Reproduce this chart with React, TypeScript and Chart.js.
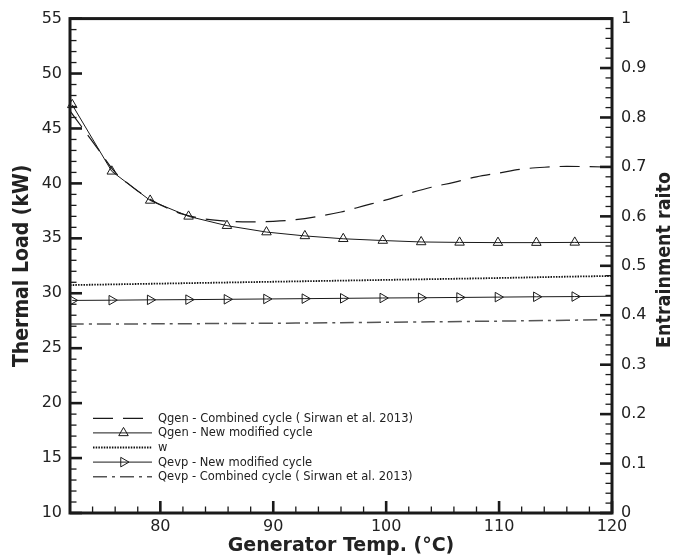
import React, { useEffect, useRef } from 'react';
import { Chart, registerables } from 'chart.js';

Chart.register(...registerables);

// ---- tick labels ----
const X_TICKS = [80, 90, 100, 110, 120];
const Y_LEFT_TICKS = [10, 15, 20, 25, 30, 35, 40, 45, 50, 55];
const Y_RIGHT_TICKS = [0, 0.1, 0.2, 0.3, 0.4, 0.5, 0.6, 0.7, 0.8, 0.9, 1];

// ---- series ----
const LABELS = [
  'Qgen - Combined cycle ( Sirwan et al. 2013)',
  'Qgen - New modified cycle',
  'w',
  'Qevp - New modified cycle',
  'Qevp - Combined cycle ( Sirwan et al. 2013)',
];

const QGEN_COMB_X = [72, 73, 74.5, 76, 77.5, 79, 80.5, 82, 84, 86, 88, 90, 92, 94, 96, 98, 100, 102, 104, 106, 108, 110, 112, 114, 116, 118, 120];
const QGEN_COMB_Y = [46.6, 45.2, 43.1, 41.0, 39.7, 38.6, 37.8, 37.2, 36.75, 36.55, 36.5, 36.55, 36.7, 37.0, 37.4, 37.95, 38.5, 39.1, 39.65, 40.1, 40.6, 40.95, 41.3, 41.47, 41.55, 41.52, 41.48];

const QGEN_NEW_X = [72.2, 75.7, 79.1, 82.5, 85.9, 89.4, 92.8, 96.2, 99.7, 103.1, 106.5, 109.9, 113.3, 116.7, 120];
const QGEN_NEW_Y = [47.15, 41.1, 38.45, 37.0, 36.15, 35.57, 35.22, 34.96, 34.8, 34.67, 34.63, 34.61, 34.61, 34.63, 34.63];

const W_X = [72, 76, 80, 84, 88, 92, 96, 100, 104, 108, 112, 116, 120];
const W_Y = [0.461, 0.4625, 0.464, 0.4655, 0.467, 0.4685, 0.47, 0.4715, 0.473, 0.4745, 0.4762, 0.478, 0.4795];

const QEVP_NEW_X = [72.2, 75.7, 79.1, 82.5, 85.9, 89.4, 92.8, 96.2, 99.7, 103.1, 106.5, 109.9, 113.3, 116.7, 120];
const QEVP_NEW_Y = [29.35, 29.37, 29.4, 29.42, 29.45, 29.48, 29.51, 29.54, 29.57, 29.59, 29.62, 29.65, 29.68, 29.7, 29.73];

const QEVP_COMB_X = [72, 80, 88, 96, 104, 112, 120];
const QEVP_COMB_Y = [27.2, 27.22, 27.26, 27.32, 27.4, 27.49, 27.6];

const X_MINOR_STEP = 2;
const YL_MINOR_STEP = 1;
const YR_MINOR_STEP = 0.02;

const TEXT = '#222';
const INK = '#1a1a1a';
const FONT = "'DejaVu Sans', sans-serif";
const TITLE_FONT = "'DejaVu Sans Condensed', 'Liberation Sans', sans-serif";

const zip = (xs: number[], ys: number[]) => xs.map((x, i) => ({ x, y: ys[i] }));
const markerRadii = (n: number, r: number) => Array.from({ length: n }, (_, i) => (i === n - 1 ? 0 : r));

function drawTriangle(ctx: CanvasRenderingContext2D, x: number, y: number, r: number, rotDeg: number) {
  let rad = (rotDeg * Math.PI) / 180;
  ctx.beginPath();
  ctx.moveTo(x + Math.sin(rad) * r, y - Math.cos(rad) * r);
  rad += (2 * Math.PI) / 3;
  ctx.lineTo(x + Math.sin(rad) * r, y - Math.cos(rad) * r);
  rad += (2 * Math.PI) / 3;
  ctx.lineTo(x + Math.sin(rad) * r, y - Math.cos(rad) * r);
  ctx.closePath();
  ctx.stroke();
}

const framePlugin = {
  id: 'frameTicks',
  afterDatasetsDraw(chart: any) {
    const { ctx, chartArea: a, scales } = chart;
    const xs = scales.x, yl = scales.y, yr = scales.y1;
    ctx.save();
    ctx.strokeStyle = INK;
    ctx.lineCap = 'butt';
    const seg = (x1: number, y1: number, x2: number, y2: number, w: number) => {
      ctx.lineWidth = w;
      ctx.beginPath();
      ctx.moveTo(x1, y1);
      ctx.lineTo(x2, y2);
      ctx.stroke();
    };
    const MAJ = 12, MIN = 6.5, MAJW = 2.6, MINW = 1.3;
    const nx = Math.round((xs.max - xs.min) / X_MINOR_STEP);
    for (let i = 0; i <= nx; i++) {
      const v = xs.min + i * X_MINOR_STEP;
      const px = xs.getPixelForValue(v);
      const major = X_TICKS.includes(v);
      seg(px, a.bottom, px, a.bottom - (major ? MAJ : MIN), major ? MAJW : MINW);
    }
    const nl = Math.round((yl.max - yl.min) / YL_MINOR_STEP);
    for (let i = 0; i <= nl; i++) {
      const v = yl.min + i * YL_MINOR_STEP;
      const py = yl.getPixelForValue(v);
      const major = Y_LEFT_TICKS.includes(v);
      seg(a.left, py, a.left + (major ? MAJ : MIN), py, major ? MAJW : MINW);
    }
    const nr = Math.round((yr.max - yr.min) / YR_MINOR_STEP);
    for (let i = 0; i <= nr; i++) {
      const v = yr.min + i * YR_MINOR_STEP;
      const py = yr.getPixelForValue(v);
      const major = i % 5 === 0;
      seg(a.right, py, a.right - (major ? MAJ : MIN), py, major ? MAJW : MINW);
    }
    ctx.lineWidth = 3;
    ctx.strokeRect(a.left, a.top, a.right - a.left, a.bottom - a.top);
    ctx.restore();
  },
  afterDraw(chart: any) {
    const { ctx, chartArea: a } = chart;
    ctx.save();
    // legend
    const x0 = a.left + 23, x1 = a.left + 82, tx = a.left + 88;
    const y0 = a.bottom - 94.7, dy = 14.6;
    ctx.font = `11.5px ${FONT}`;
    ctx.textBaseline = 'middle';
    ctx.textAlign = 'left';
    chart.data.datasets.forEach((ds: any, i: number) => {
      const y = y0 + i * dy;
      ctx.strokeStyle = ds.borderColor;
      ctx.lineWidth = ds.borderWidth;
      ctx.setLineDash(ds.borderDash || []);
      ctx.beginPath();
      ctx.moveTo(x0, y);
      ctx.lineTo(x1, y);
      ctx.stroke();
      ctx.setLineDash([]);
      if (ds.pointStyle === 'triangle') {
        ctx.lineWidth = 1;
        ctx.strokeStyle = ds.pointBorderColor;
        drawTriangle(ctx, (x0 + x1) / 2 + 1, y, 5.5, ds.pointRotation || 0);
      }
      ctx.fillStyle = TEXT;
      ctx.fillText(ds.label, tx, y + 0.5);
    });
    // right axis title (reads bottom to top)
    ctx.font = `bold 19.5px ${TITLE_FONT}`;
    ctx.fillStyle = TEXT;
    ctx.textAlign = 'center';
    ctx.textBaseline = 'middle';
    ctx.translate(665, 260);
    ctx.rotate(-Math.PI / 2);
    ctx.fillText('Entrainment raito', 0, 0);
    ctx.restore();
  },
};

export default function App() {
  const ref = useRef<HTMLCanvasElement | null>(null);
  useEffect(() => {
    if (!ref.current) return;
    const tri = {
      pointStyle: 'triangle',
      pointBackgroundColor: 'rgba(0,0,0,0)',
      pointBorderColor: INK,
      pointBorderWidth: 1,
      pointHoverRadius: 0,
    };
    const chart = new Chart(ref.current, {
      type: 'line',
      data: {
        datasets: [
          {
            label: LABELS[0],
            data: zip(QGEN_COMB_X, QGEN_COMB_Y),
            yAxisID: 'y',
            borderColor: INK,
            borderWidth: 1.2,
            borderDash: [20, 10],
            pointRadius: 0,
            tension: 0.35,
            cubicInterpolationMode: 'monotone',
          },
          {
            label: LABELS[1],
            data: zip(QGEN_NEW_X, QGEN_NEW_Y),
            yAxisID: 'y',
            borderColor: INK,
            borderWidth: 1,
            pointRadius: markerRadii(QGEN_NEW_X.length, 5.5),
            pointRotation: 0,
            tension: 0,
            clip: false,
            ...tri,
          },
          {
            label: LABELS[2],
            data: zip(W_X, W_Y),
            yAxisID: 'y1',
            borderColor: '#111',
            borderWidth: 1.8,
            borderDash: [1.5, 1.2],
            pointRadius: 0,
            tension: 0,
          },
          {
            label: LABELS[3],
            data: zip(QEVP_NEW_X, QEVP_NEW_Y),
            yAxisID: 'y',
            borderColor: INK,
            borderWidth: 1,
            pointRadius: markerRadii(QEVP_NEW_X.length, 5.5),
            pointRotation: 90,
            tension: 0,
            clip: false,
            ...tri,
          },
          {
            label: LABELS[4],
            data: zip(QEVP_COMB_X, QEVP_COMB_Y),
            yAxisID: 'y',
            borderColor: '#555',
            borderWidth: 1.5,
            borderDash: [14, 5, 3, 5],
            pointRadius: 0,
            tension: 0.3,
          },
        ] as any,
      },
      options: {
        responsive: false,
        animation: false,
        layout: { padding: { top: 16, left: 0, right: 0, bottom: 0 } },
        plugins: { legend: { display: false }, tooltip: { enabled: false } },
        events: [],
        scales: {
          x: {
            type: 'linear',
            position: 'bottom',
            min: 72,
            max: 120,
            afterBuildTicks: (s: any) => { s.ticks = X_TICKS.map((v) => ({ value: v })); },
            afterFit: (s: any) => { s.height = 45; },
            grid: { display: false, drawTicks: false },
            border: { display: false },
            ticks: { color: TEXT, padding: 4, font: { family: FONT, size: 16 }, maxRotation: 0, autoSkip: false },
            title: {
              display: true,
              text: 'Generator Temp. (°C)',
              color: TEXT,
              font: { family: FONT, size: 19, weight: 'bold', lineHeight: 1.2 },
              padding: { top: 0, bottom: 0.5 },
            },
          },
          y: {
            type: 'linear',
            position: 'left',
            min: 10,
            max: 55,
            afterBuildTicks: (s: any) => { s.ticks = Y_LEFT_TICKS.map((v) => ({ value: v })); },
            afterFit: (s: any) => { s.width = 70; },
            grid: { display: false, drawTicks: false },
            border: { display: false },
            ticks: { color: TEXT, padding: 8, font: { family: FONT, size: 16 }, autoSkip: false },
            title: {
              display: true,
              text: 'Thermal Load (kW)',
              color: TEXT,
              font: { family: TITLE_FONT, size: 21, weight: 'bold', lineHeight: 1.2 },
              padding: { top: 9.5, bottom: 0 },
            },
          },
          y1: {
            type: 'linear',
            position: 'right',
            min: 0,
            max: 1,
            afterBuildTicks: (s: any) => { s.ticks = Y_RIGHT_TICKS.map((v) => ({ value: v })); },
            afterFit: (s: any) => { s.width = 66; },
            grid: { display: false, drawTicks: false },
            border: { display: false },
            ticks: {
              color: TEXT,
              padding: 9,
              font: { family: FONT, size: 16 },
              autoSkip: false,
              callback: (v: any) => String(Math.round(Number(v) * 10) / 10),
            },
          },
        },
      } as any,
      plugins: [framePlugin],
    });
    return () => chart.destroy();
  }, []);

  return (
    <div style={{ position: 'fixed', left: 0, top: 0, width: 678, height: 558, background: '#fff' }}>
      <canvas ref={ref} width={678} height={558} style={{ display: 'block' }} />
    </div>
  );
}
